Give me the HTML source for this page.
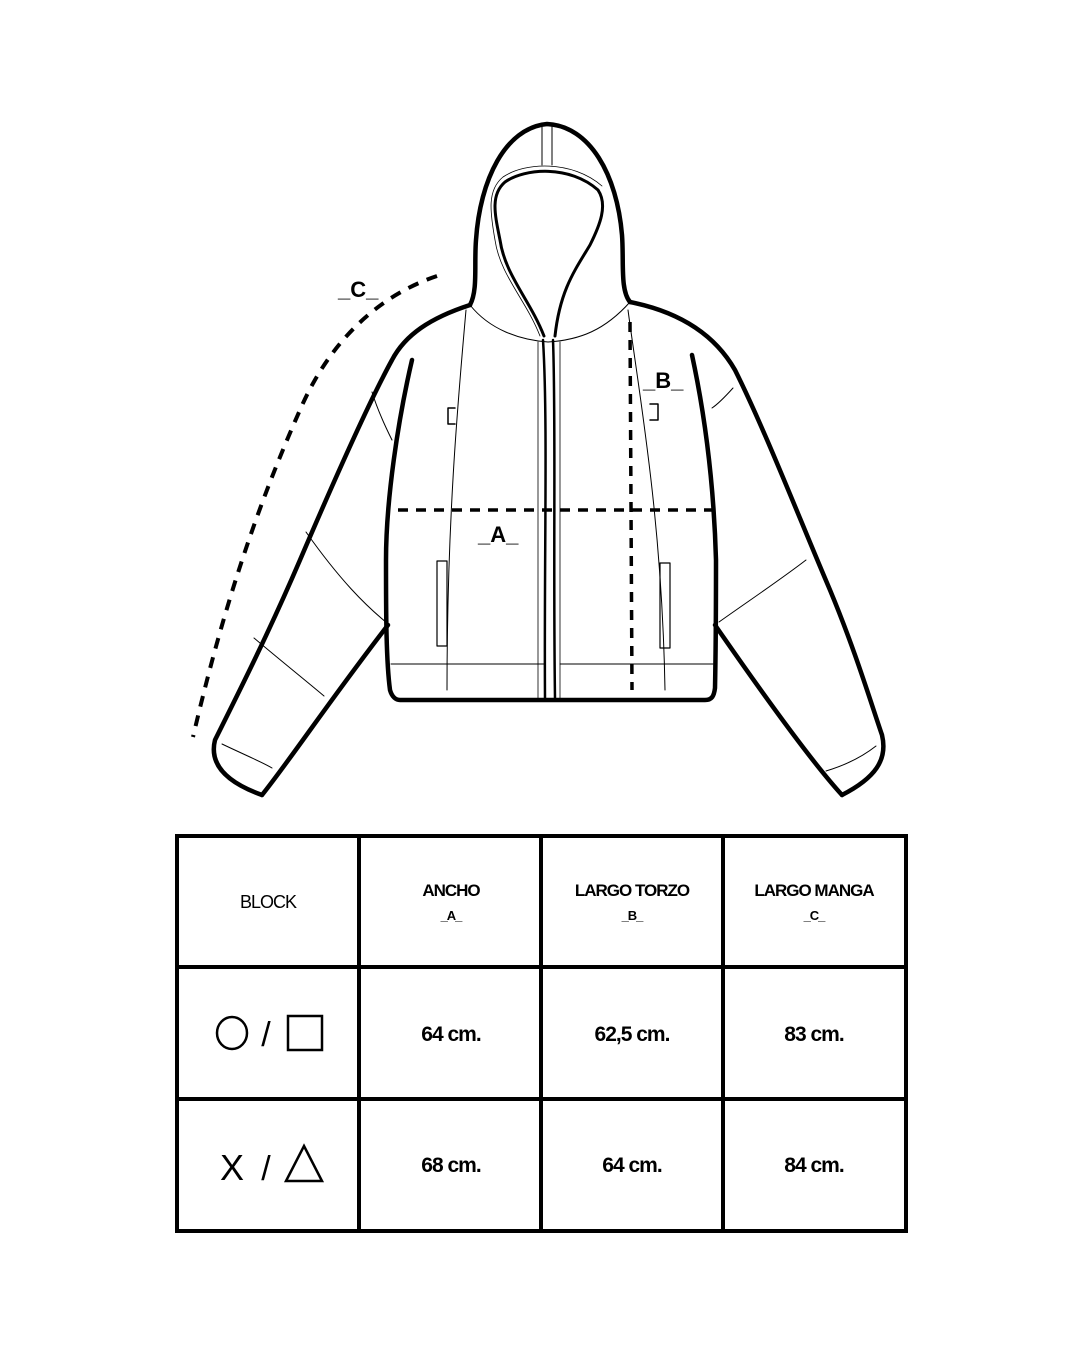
<!DOCTYPE html>
<html><head><meta charset="utf-8"><style>
html,body{margin:0;padding:0;background:#fff;}
svg{display:block;}
text{font-family:"Liberation Sans",sans-serif;fill:#000;}
</style></head><body>
<svg width="1080" height="1350" viewBox="0 0 1080 1350" xmlns="http://www.w3.org/2000/svg">
<rect width="1080" height="1350" fill="#fff"/>
<g fill="none" stroke="#000" stroke-linejoin="round" stroke-linecap="round">
<!-- hood outer -->
<path d="M470,305 C478,290 474,265 476,240 C480,180 505,128 547,124 C590,126 617,175 622,235 C624,262 620,290 630,302" stroke-width="4.5"/>
<!-- hood inner opening -->
<path d="M544,336 C530,300 505,275 500,240 C495,215 490,195 505,182 C525,168 570,165 598,190 C608,205 600,225 590,245 C575,270 560,290 555,336" stroke-width="3"/>
<path d="M540,336 C526,300 500,275 495,240 C490,212 487,190 503,177 C525,162 572,160 602,186" stroke-width="0.8"/>
<path d="M542,126 L542,165 M552,126 L552,165" stroke-width="1"/>
<!-- neck seam -->
<path d="M470,305 C490,330 520,340 548,342 C580,340 605,330 630,302" stroke-width="1"/>
<!-- left shoulder and outer sleeve -->
<path d="M470,305 C430,318 405,335 392,360 C370,400 330,490 300,560 C270,630 240,690 215,740 C210,760 220,780 262,795" stroke-width="4.5"/>
<!-- left inner sleeve -->
<path d="M262,795 C290,760 330,700 388,625" stroke-width="4.5"/>
<!-- left body side -->
<path d="M412,360 C398,420 386,500 386,560 C386,610 386,660 390,690 C392,697 396,700 400,700 L705,700 C712,700 714,696 715,688 C716,640 716,600 716,560 C714,490 706,420 692,355" stroke-width="4.5"/>
<!-- right shoulder and sleeve -->
<path d="M630,302 C680,312 715,335 735,370 C765,430 800,520 830,590 C855,650 870,700 882,735 C888,760 875,778 842,795" stroke-width="4.5"/>
<path d="M842,795 C810,760 760,690 715,625" stroke-width="4.5"/>
<!-- seam lines -->
<path d="M372,392 C376,405 382,420 392,440 M306,532 C340,580 365,605 387,623 M254,638 C280,660 305,680 324,696 M222,744 C245,755 262,762 272,768" stroke-width="1"/>
<path d="M712,408 C718,404 724,398 733,388 M719,622 C750,600 780,580 806,560 M826,771 C846,765 862,757 876,746" stroke-width="1"/>
<!-- panels -->
<path d="M466,310 C458,400 447,520 447,690" stroke-width="1"/>
<path d="M628,310 C640,400 662,520 665,690" stroke-width="1"/>
<path d="M391,664 L545,664 M560,664 L713,664" stroke-width="1"/>
<!-- zipper -->
<path d="M543,340 C548,420 544,560 545,698 M553,340 C556,420 553,560 555,698" stroke-width="2.5"/>
<path d="M538,342 L538,698 M560,342 L560,698" stroke-width="0.8"/>
<!-- small tabs -->
<path d="M455,408 L448,408 L448,424 L455,424" stroke-width="1.5"/>
<path d="M650,404 L658,404 L658,420 L650,420" stroke-width="1.5"/>
<!-- pockets -->
<rect x="437" y="561" width="10" height="85" stroke-width="1.2"/>
<rect x="660" y="563" width="10" height="85" stroke-width="1.2"/>
<!-- dashed A -->
<path d="M398,510 L712,510" stroke-width="3.5" stroke-dasharray="10,8" stroke-linecap="butt"/>
<!-- dashed B -->
<path d="M630,322 L632,690" stroke-width="3.5" stroke-dasharray="10,8" stroke-linecap="butt"/>
<!-- dashed C -->
<path d="M437,276 C380,295 330,340 300,410 C260,500 225,600 193,737" stroke-width="4" stroke-dasharray="11,9" stroke-linecap="butt"/>
</g>
<g font-weight="bold" font-size="22">
<text x="338" y="297">_C_</text>
<text x="478" y="542">_A_</text>
<text x="643" y="388">_B_</text>
</g>
<!-- table -->
<g fill="none" stroke="#000" stroke-width="4">
<rect x="177" y="836" width="729" height="395"/>
<path d="M359,836 V1231 M541,836 V1231 M723,836 V1231 M177,967 H906 M177,1099 H906"/>
</g>
<g text-anchor="middle">
<text x="268" y="908" font-size="18" letter-spacing="-1">BLOCK</text>
<g font-weight="bold" font-size="17" letter-spacing="-1">
<text x="451" y="896">ANCHO</text><text x="451" y="920" font-size="13">_A_</text>
<text x="632" y="896">LARGO TORZO</text><text x="632" y="920" font-size="13">_B_</text>
<text x="814" y="896">LARGO MANGA</text><text x="814" y="920" font-size="13">_C_</text>
</g>
<g font-weight="bold" font-size="21" letter-spacing="-1">
<text x="451" y="1041">64 cm.</text><text x="632" y="1041">62,5 cm.</text><text x="814" y="1041">83 cm.</text>
<text x="451" y="1172">68 cm.</text><text x="632" y="1172">64 cm.</text><text x="814" y="1172">84 cm.</text>
</g>
<text x="266" y="1046" font-size="34">/</text>
<text x="266" y="1180" font-size="34">/</text>
<text x="232" y="1180" font-size="36">X</text>
</g>
<g fill="none" stroke="#000" stroke-width="2.5">
<ellipse cx="232" cy="1033" rx="15" ry="16"/>
<rect x="288" y="1016" width="34" height="34"/>
<path d="M304,1146 L322,1181 L286,1181 Z"/>
</g>
</svg>
</body></html>
